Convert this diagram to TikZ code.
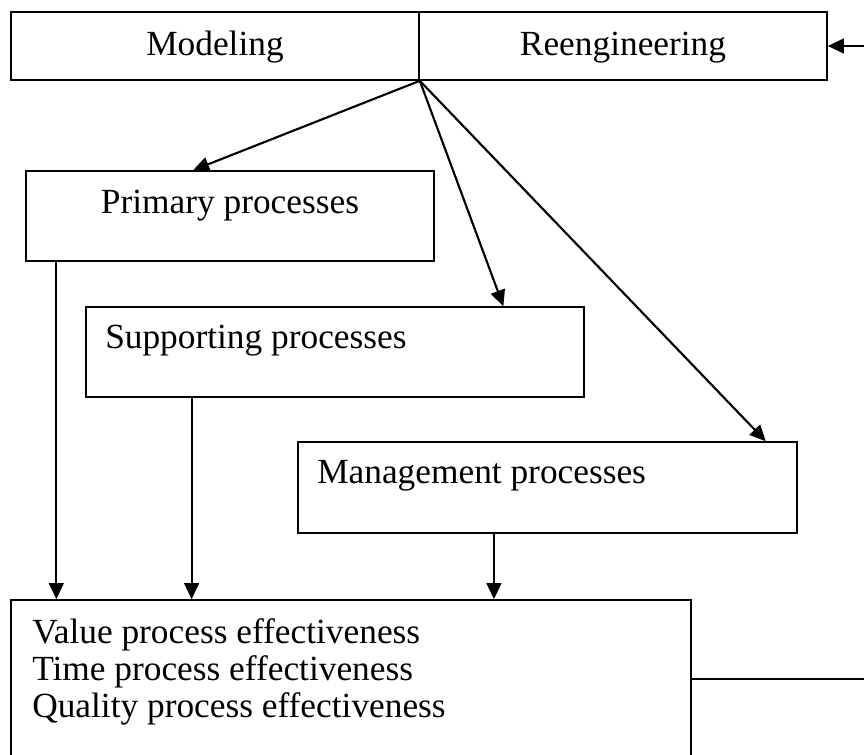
\documentclass[tikz,border=0pt]{standalone}
\usepackage{fontspec}
\setmainfont{Liberation Serif}
\usepackage{tikz}
\usetikzlibrary{arrows.meta,positioning,calc,fit}

\begin{document}
\begin{tikzpicture}[x=0.75pt,y=-0.75pt,>={Triangle[length=12pt,width=11pt]},font=\fontsize{26.5}{28}\selectfont]
\tikzstyle{block}=[draw,rectangle,line width=1.2pt,inner sep=0pt]
  \tikzstyle{caption}=[inner sep=0pt]
  \tikzstyle{link}=[draw,line width=1.6pt]
%
\clip (0,0) rectangle (864,754);
%
\node[block,fit={(11,12) (419,80)}] (model) {};
  \node[caption,anchor=base] (modeltext) at (215,55) {Modeling};
  \node[block,fit={(419,12) (827,80)}] (reeng) {};
  \node[caption,anchor=base] (reengtext) at (623,55) {Reengineering};
  \node[block,fit={(26,171) (434,261)}] (prim) {};
  \node[caption,anchor=base] (primtext) at (230,213) {Primary processes};
  \node[block,fit={(86,307) (584,397)}] (supp) {};
  \node[caption,anchor=base west] (supptext) at (105,348) {Supporting processes};
  \node[block,fit={(298,442) (797,533)}] (mgmt) {};
  \node[caption,anchor=base west] (mgmttext) at (317,483) {Management processes};
  \node[block,fit={(11,600) (691,780)}] (result) {};
  \node[caption,anchor=base west] (valtext) at (32,643) {Value process effectiveness};
  \node[caption,anchor=base west] (timetext) at (32,680) {Time process effectiveness};
  \node[caption,anchor=base west] (qualtext) at (32,717) {Quality process effectiveness};
%
  \coordinate (apex) at (model.south east);
  \coordinate (fbin) at (864,46);
  \coordinate (fbout) at (864,679);
  \coordinate (pfoot) at ($(prim.south west)!0.076!(prim.south east)$);
  \coordinate (sfoot) at ($(supp.south west)!0.213!(supp.south east)$);
  \coordinate (mfoot) at ($(mgmt.south west)!0.393!(mgmt.south east)$);

  \draw[link,->] (apex) -- ($(prim.north west)!0.41!(prim.north east)$);
  \draw[link,->] (apex) -- ($(supp.north west)!0.837!(supp.north east)$);
  \draw[link,->] (apex) -- ($(mgmt.north west)!0.936!(mgmt.north east)$);
  \draw[link,->] (pfoot) -- (pfoot |- result.north);
  \draw[link,->] (sfoot) -- (sfoot |- result.north);
  \draw[link,->] (mfoot) -- (mfoot |- result.north);
  \draw[link] (fbout -| result.east) -- (fbout);
  \draw[link,->] (fbin) -- (reeng.east);
\end{tikzpicture}
\end{document}
